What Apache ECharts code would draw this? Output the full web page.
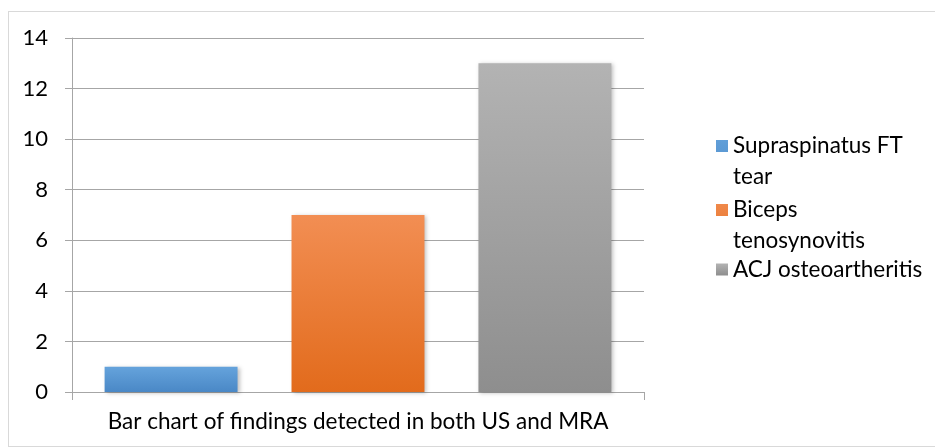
<!DOCTYPE html>
<html>
<head>
<meta charset="utf-8">
<script src="https://cdn.jsdelivr.net/npm/echarts@6/dist/echarts.min.js"></script>
<style>
  html, body { margin: 0; padding: 0; background: #fff; }
  #frame {
    position: absolute; left: 8px; top: 11px; width: 940px; height: 436px;
    border: 1px solid #d9d9d9; box-sizing: border-box;
  }
  #my_echart { position: absolute; left: 0; top: 0; width: 935px; height: 448px; }
</style>
</head>
<body>
<div id="frame"></div>
<div id="my_echart"></div>
<script>
// data
const categories = ["Bar chart of findings detected in both US and MRA"];
const seriesNames = ["Supraspinatus FT tear", "Biceps tenosynovitis", "ACJ osteoartheritis"];
const supraspinatus = [1];
const biceps = [7];
const acj = [13];
const yTicks = { min: 0, max: 14, interval: 2 };

const font = "Lato, 'Noto Sans', sans-serif";

// 渐变色，上浅下深
function grad(top, bottom) {
  return new echarts.graphic.LinearGradient(0, 0, 0, 1, [
    { offset: 0, color: top },
    { offset: 1, color: bottom },
  ]);
}

const legendText = {
  "Supraspinatus FT tear": "Supraspinatus FT\ntear",
  "Biceps tenosynovitis": "Biceps\ntenosynovitis",
  "ACJ osteoartheritis": "ACJ osteoartheritis",
};

// 两行图例：方块对齐第一行
const twoLineIcon = "path://M0,0L0,1M0,61L0,62M0,10L12,10L12,22L0,22Z";

function legendFor(name, top, twoLines) {
  return {
    orient: "vertical",
    left: 716,
    top: top,
    padding: 0,
    itemWidth: 12,
    itemHeight: twoLines ? 62 : 12,
    icon: twoLines ? twoLineIcon : "rect",
    formatter: (n) => legendText[n],
    textStyle: { fontFamily: font, fontSize: 22.5, color: "#000", lineHeight: 31 },
    data: [name],
  };
}

function barSeries(name, data, top, bottom) {
  return {
    name: name,
    type: "bar",
    data: data,
    barGap: "40.6%",
    barCategoryGap: "11.4%",
    itemStyle: {
      color: grad(top, bottom),
      shadowBlur: 4,
      shadowColor: "rgba(0,0,0,0.25)",
      shadowOffsetX: 2,
      shadowOffsetY: 1,
    },
  };
}

let chart = echarts.init(document.getElementById("my_echart"));
let option = {
  animation: false,
  textStyle: { fontFamily: font },
  grid: { left: 72, right: 291, top: 38, bottom: 56 },
  legend: [
    legendFor(seriesNames[0], 130, true),
    legendFor(seriesNames[1], 194, true),
    legendFor(seriesNames[2], 254, false),
  ],
  xAxis: {
    type: "category",
    data: categories,
    axisLine: { show: true, lineStyle: { color: "#a6a6a6", width: 1 } },
    axisTick: { show: true, length: 8, lineStyle: { color: "#a6a6a6" } },
    axisLabel: { fontFamily: font, fontSize: 22.5, color: "#000", margin: 18 },
  },
  yAxis: {
    type: "value",
    min: yTicks.min,
    max: yTicks.max,
    interval: yTicks.interval,
    axisLine: { show: true, lineStyle: { color: "#a6a6a6", width: 1 } },
    axisTick: { show: true, length: 7, lineStyle: { color: "#a6a6a6" } },
    axisLabel: { fontFamily: font, fontSize: 22, color: "#000", margin: 24 },
    splitLine: { show: true, lineStyle: { color: "#a6a6a6", width: 1 } },
  },
  series: [
    barSeries(seriesNames[0], supraspinatus, "#65a3dc", "#4a88c6"),
    barSeries(seriesNames[1], biceps, "#f28e53", "#e26b1c"),
    barSeries(seriesNames[2], acj, "#b3b3b3", "#8e8e8e"),
  ],
};
chart.setOption(option);
</script>
</body>
</html>
